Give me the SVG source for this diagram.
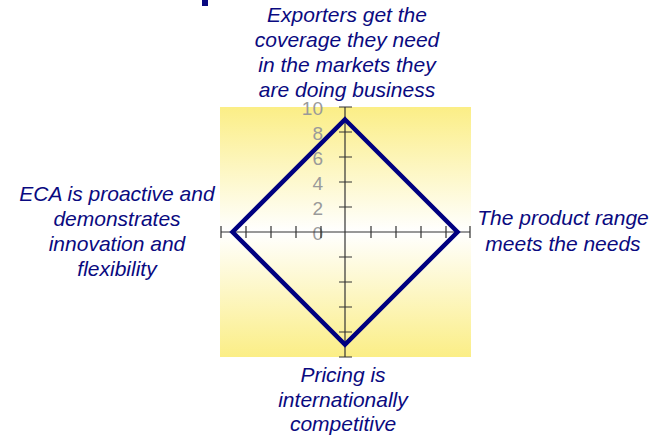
<svg xmlns="http://www.w3.org/2000/svg" width="657" height="435" viewBox="0 0 657 435">
<defs>
<linearGradient id="bg" x1="0" y1="0" x2="0" y2="1">
<stop offset="0" stop-color="#FBEE86"/>
<stop offset="0.5" stop-color="#FFFFFF"/>
<stop offset="1" stop-color="#FBEE86"/>
</linearGradient>
<style>
.lbl{font-family:"Liberation Sans",Arial,sans-serif;font-style:italic;font-size:21px;fill:#0A0A80;text-anchor:middle}
.num{font-family:"Liberation Sans",Arial,sans-serif;font-size:19px;fill:#9A9A9A;text-anchor:end}
.axis{stroke:#333;stroke-width:1.2;fill:none}
.tick{stroke:#333;stroke-width:1.2}
</style>
</defs>
<rect width="657" height="435" fill="#FFFFFF"/>
<rect x="202" y="0" width="6" height="6" fill="#0A0A80"/>
<g id="plot">
<rect x="220" y="107" width="251" height="250" fill="url(#bg)"/>
<g id="numbers">
<text class="num" x="323" y="114.5">10</text>
<text class="num" x="323" y="139.5">8</text>
<text class="num" x="323" y="164.5">6</text>
<text class="num" x="323" y="189.5">4</text>
<text class="num" x="323" y="214.5">2</text>
<text class="num" x="323" y="239.5">0</text>
</g>
<g id="axes">
<line class="axis" x1="345" y1="107" x2="345" y2="357"/>
<line class="axis" x1="221" y1="232" x2="470" y2="232"/>
<path class="tick" d="M339 107H352M339 132H352M339 157H352M339 182H352M339 207H352M339 257H352M339 282H352M339 307H352M339 332H352M339 357H352"/>
<path class="tick" d="M221 226V238M246 226V238M271 226V238M296 226V238M321 226V238M371 226V238M396 226V238M421 226V238M446 226V238M470 226V238"/>
</g>
</g>
<g id="connectors">
<polygon points="345,119.5 457.5,232 345,344.5 232.5,232" fill="none" stroke="#000080" stroke-width="4.5" stroke-linejoin="miter"/>
</g>
<g id="node-top">
<text class="lbl" x="347" y="22">Exporters get the</text>
<text class="lbl" x="347" y="47">coverage they need</text>
<text class="lbl" x="347" y="72">in the markets they</text>
<text class="lbl" x="347" y="97">are doing business</text>
</g>
<g id="node-left">
<text class="lbl" x="117" y="201">ECA is proactive and</text>
<text class="lbl" x="117" y="226">demonstrates</text>
<text class="lbl" x="117" y="251">innovation and</text>
<text class="lbl" x="117" y="276">flexibility</text>
</g>
<g id="node-right">
<text class="lbl" x="563" y="225">The product range</text>
<text class="lbl" x="563" y="251">meets the needs</text>
</g>
<g id="node-bottom">
<text class="lbl" x="343" y="382">Pricing is</text>
<text class="lbl" x="343" y="407">internationally</text>
<text class="lbl" x="343" y="431">competitive</text>
</g>
</svg>
